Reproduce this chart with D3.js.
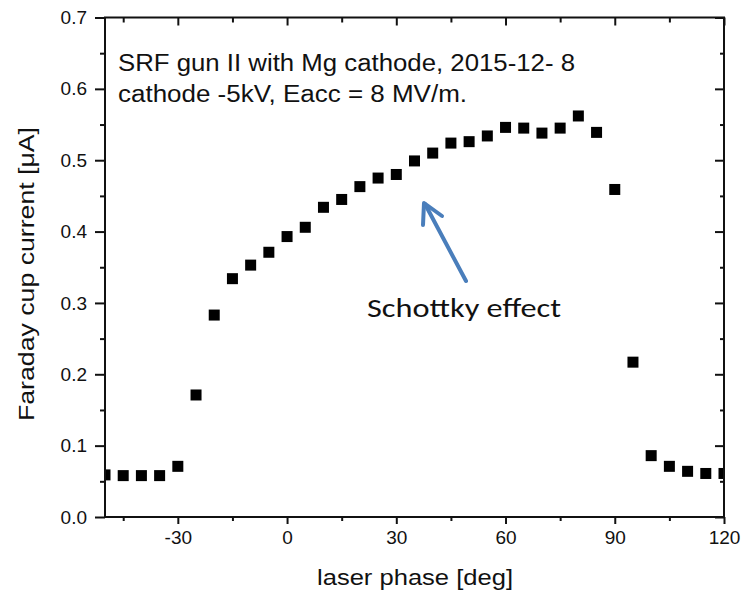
<!DOCTYPE html>
<html>
<head>
<meta charset="utf-8">
<script src="https://cdn.jsdelivr.net/npm/d3@7"></script>
<style>
  body { margin: 0; background: #fff; }
  svg { display: block; }
  text { font-family: "Liberation Sans", Arial, sans-serif; fill: #111; }
</style>
</head>
<body>
<svg id="chart" width="745" height="598"></svg>
<script>
var phase = [-50, -45, -40, -35, -30, -25, -20, -15, -10, -5, 0, 5, 10, 15, 20, 25, 30, 35, 40, 45, 50, 55, 60, 65, 70, 75, 80, 85, 90, 95, 100, 105, 110, 115, 120];
var current = [0.059, 0.058, 0.058, 0.058, 0.071, 0.171, 0.283, 0.334, 0.353, 0.371, 0.393, 0.406, 0.434, 0.445, 0.463, 0.475, 0.480, 0.499, 0.510, 0.524, 0.526, 0.534, 0.546, 0.545, 0.538, 0.545, 0.562, 0.539, 0.459, 0.217, 0.086, 0.071, 0.064, 0.061, 0.061];
var xTicks = [-30, 0, 30, 60, 90, 120];
var xMinor = [-45, -15, 15, 45, 75, 105];
var yTicks = [0.0, 0.1, 0.2, 0.3, 0.4, 0.5, 0.6, 0.7];
var yMinor = [0.05, 0.15, 0.25, 0.35, 0.45, 0.55, 0.65];
var noteLines = ['SRF gun II with Mg cathode, 2015-12- 8', 'cathode -5kV, Eacc = 8 MV/m.'];
var noteWidths = [457, 349];

var pLeft = 105, pRight = 724, pTop = 17.5, pBottom = 517;
var svg = d3.select('#chart');

var x = d3.scaleLinear().domain([-50, 120]).range([pLeft, pRight]);
var y = d3.scaleLinear().domain([0, 0.7]).range([pBottom, pTop]);

svg.append('defs').append('clipPath').attr('id', 'plotclip')
  .append('rect').attr('x', pLeft).attr('y', pTop).attr('width', pRight - pLeft).attr('height', pBottom - pTop);

// points
var sz = 11;
svg.append('g').attr('clip-path', 'url(#plotclip)')
  .selectAll('rect').data(phase).enter().append('rect')
  .attr('x', function(d) { return x(d) - sz / 2; })
  .attr('y', function(d, i) { return y(current[i]) - sz / 2; })
  .attr('width', sz).attr('height', sz)
  .attr('fill', '#000');

// axes
function styleAxis(g) {
  g.select('.domain').remove();
  g.selectAll('line').attr('stroke', '#111').attr('stroke-width', 2);
  g.selectAll('text').attr('font-size', 19).attr('fill', '#111')
    .style('font-family', '"Liberation Sans", Arial, sans-serif');
}

var fmtY = d3.format('.1f');
var fmtX = function(d) { return String(d); };
svg.append('g').attr('transform', 'translate(0,' + pBottom + ')')
  .call(d3.axisBottom(x).tickValues(xTicks).tickSize(7).tickPadding(7).tickFormat(fmtX))
  .call(styleAxis);
svg.append('g').attr('transform', 'translate(0,' + pBottom + ')')
  .call(d3.axisBottom(x).tickValues(xMinor).tickSize(4).tickFormat(''))
  .call(styleAxis);
svg.append('g').attr('transform', 'translate(' + pLeft + ',0)')
  .call(d3.axisLeft(y).tickValues(yTicks).tickSize(10).tickPadding(8).tickFormat(fmtY))
  .call(styleAxis);
svg.append('g').attr('transform', 'translate(' + pLeft + ',0)')
  .call(d3.axisLeft(y).tickValues(yMinor).tickSize(5).tickFormat(''))
  .call(styleAxis);
// mirrored ticks pointing inward on top and right
svg.append('g').attr('transform', 'translate(0,' + pTop + ')')
  .call(d3.axisBottom(x).tickValues(xTicks).tickSize(8).tickFormat(''))
  .call(styleAxis);
svg.append('g').attr('transform', 'translate(0,' + pTop + ')')
  .call(d3.axisBottom(x).tickValues(xMinor).tickSize(5).tickFormat(''))
  .call(styleAxis);
svg.append('g').attr('transform', 'translate(' + pRight + ',0)')
  .call(d3.axisLeft(y).tickValues(yTicks).tickSize(9).tickFormat(''))
  .call(styleAxis);
svg.append('g').attr('transform', 'translate(' + pRight + ',0)')
  .call(d3.axisLeft(y).tickValues(yMinor).tickSize(4).tickFormat(''))
  .call(styleAxis);

// frame
svg.append('rect').attr('x', pLeft).attr('y', pTop).attr('width', pRight - pLeft).attr('height', pBottom - pTop)
  .attr('fill', 'none').attr('stroke', '#111').attr('stroke-width', 2);

// axis titles
svg.append('text').attr('x', 317).attr('y', 585)
  .attr('font-size', 22).attr('textLength', 196).attr('lengthAdjust', 'spacingAndGlyphs')
  .text('laser phase [deg]');
svg.append('text').attr('transform', 'translate(34,421) rotate(-90)')
  .attr('font-size', 22).attr('textLength', 294).attr('lengthAdjust', 'spacingAndGlyphs')
  .text('Faraday cup current [\u03bcA]');

// note
svg.selectAll('.note').data(noteLines).enter().append('text')
  .attr('class', 'note')
  .attr('x', 118).attr('y', function(d, i) { return 71 + i * 31; })
  .attr('font-size', 23)
  .attr('textLength', function(d, i) { return noteWidths[i]; })
  .attr('lengthAdjust', 'spacingAndGlyphs')
  .text(function(d) { return d; });

// Schottky annotation
svg.append('text').attr('x', 367).attr('y', 317)
  .style('font-family', 'Carlito, Lato, "Open Sans", sans-serif')
  .attr('font-size', 27).attr('textLength', 194).attr('lengthAdjust', 'spacingAndGlyphs')
  .text('Schottky effect');

var arrowColor = '#4a7ebb';
svg.append('line').attr('x1', 466).attr('y1', 281).attr('x2', 425).attr('y2', 204)
  .attr('stroke', arrowColor).attr('stroke-width', 4).attr('stroke-linecap', 'round');
svg.append('path').attr('d', 'M423,225 L424,203 L442,216')
  .attr('fill', 'none').attr('stroke', arrowColor).attr('stroke-width', 4)
  .attr('stroke-linecap', 'round').attr('stroke-linejoin', 'round');
</script>
</body>
</html>
